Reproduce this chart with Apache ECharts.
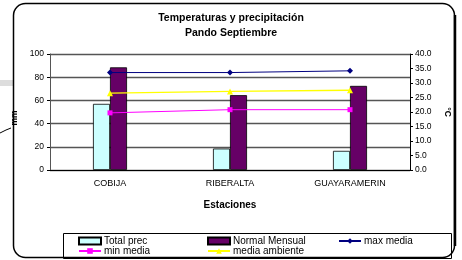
<!DOCTYPE html>
<html>
<head>
<meta charset="utf-8">
<script src="https://cdn.jsdelivr.net/npm/echarts@6/dist/echarts.min.js"></script>
<style>
  html, body { margin: 0; padding: 0; background: #fff; }
  #main { width: 462px; height: 260px; }
</style>
</head>
<body>
<div id="main"></div>
<script>
// data
var estaciones = ['COBIJA', 'RIBERALTA', 'GUAYARAMERIN'];
var totalPrec = [57, 18.5, 16.5];
var normalMensual = [88.5, 64.5, 72.5];
var maxMedia = [33.6, 33.6, 34.2];
var minMedia = [19.7, 20.8, 20.8];
var mediaAmbiente = [26.5, 27.1, 27.5];

var font = 'Liberation Sans, Arial, sans-serif';
var myChart = echarts.init(document.getElementById('main'), null, { renderer: 'canvas' });

function leg(name, left, top, icon) {
  return {
    data: [{ name: name, icon: icon }],
    left: left, top: top,
    padding: 0,
    itemWidth: 22, itemHeight: 7,
    itemGap: 4,
    textStyle: { fontFamily: font, fontSize: 10, color: '#000', padding: [0, 0, 0, -2] }
  };
}

var option = {
  animation: false,
  textStyle: { fontFamily: font },
  title: {
    text: 'Temperaturas y precipitación\nPando Septiembre',
    left: 'center', top: 6,
    textStyle: { fontFamily: font, fontSize: 10.5, fontWeight: 'bold', lineHeight: 15, color: '#000' }
  },
  legend: [
    leg('Total prec', 78, 236, 'rect'),
    leg('Normal Mensual', 207, 236, 'rect'),
    leg('max media', 338, 236),
    leg('min media', 78, 246),
    leg('media ambiente', 207, 246)
  ],
  grid: { left: 50, right: 52, top: 54, bottom: 90 },
  xAxis: {
    type: 'category',
    data: estaciones,
    name: 'Estaciones',
    nameLocation: 'middle',
    nameGap: 30,
    nameTextStyle: { fontFamily: font, fontSize: 10, fontWeight: 'bold', color: '#000' },
    axisLine: { lineStyle: { color: '#000', width: 1 } },
    axisTick: { length: 4, lineStyle: { color: '#000' } },
    axisLabel: { fontFamily: font, fontSize: 9, color: '#000', margin: 9 }
  },
  yAxis: [
    {
      type: 'value', min: 0, max: 100, interval: 20,
      name: 'mm', nameLocation: 'middle', nameGap: 26, nameRotate: 90,
      nameTextStyle: { fontFamily: font, fontSize: 8.5, fontWeight: 'bold', color: '#000', padding: [0, 12, 0, 0] },
      axisLine: { show: true, lineStyle: { color: '#555', width: 1 } },
      axisTick: { show: true, length: 3, lineStyle: { color: '#000' } },
      axisLabel: { fontFamily: font, fontSize: 8.5, color: '#000', margin: 6 },
      splitLine: { lineStyle: { color: '#555', width: 1.3 } }
    },
    {
      type: 'value', min: 0, max: 40, interval: 5,
      name: '°C', nameLocation: 'middle', nameGap: 30, nameRotate: -90,
      nameTextStyle: { fontFamily: font, fontSize: 8.5, fontWeight: 'bold', color: '#000' },
      axisLine: { show: true, lineStyle: { color: '#000', width: 1 } },
      axisTick: { show: true, length: 3, lineStyle: { color: '#000' } },
      axisLabel: {
        fontFamily: font, fontSize: 8.5, color: '#000', margin: 5,
        formatter: function (v) { return v.toFixed(1); }
      },
      splitLine: { show: false }
    }
  ],
  series: [
    {
      name: 'Total prec', type: 'bar', data: totalPrec,
      barWidth: 17, barGap: '0%',
      itemStyle: { color: '#CCFFFF', borderColor: '#000', borderWidth: 0.8 }
    },
    {
      name: 'Normal Mensual', type: 'bar', data: normalMensual,
      barWidth: 17,
      itemStyle: { color: '#660066', borderColor: '#000', borderWidth: 0.8 }
    },
    {
      name: 'max media', type: 'line', yAxisIndex: 1, data: maxMedia,
      symbol: 'diamond', symbolSize: 6,
      lineStyle: { color: '#000080', width: 1 },
      itemStyle: { color: '#000080' }
    },
    {
      name: 'min media', type: 'line', yAxisIndex: 1, data: minMedia,
      symbol: 'rect', symbolSize: 5,
      lineStyle: { color: '#FF00FF', width: 1 },
      itemStyle: { color: '#FF00FF' }
    },
    {
      name: 'media ambiente', type: 'line', yAxisIndex: 1, data: mediaAmbiente,
      symbol: 'triangle', symbolSize: 6,
      lineStyle: { color: '#FFFF00', width: 1.3 },
      itemStyle: { color: '#FFFF00' }
    }
  ],
  graphic: [
    // bits of the page behind the chart
    { type: 'rect', shape: { x: 0, y: 80, width: 13, height: 6 }, style: { fill: '#ddd' }, silent: true },
    { type: 'polyline', shape: { points: [[0, 133], [6, 130], [11, 128]] }, style: { stroke: '#000', lineWidth: 1, fill: null }, silent: true },
    // legend box
    { type: 'rect', shape: { x: 63.5, y: 233.5, width: 388, height: 25 }, style: { fill: 'none', stroke: '#000', lineWidth: 1 }, silent: true, z: -1 },
    // chart frame
    { type: 'rect', shape: { x: 13.5, y: 3.5, width: 441, height: 254, r: 12 }, style: { fill: 'none', stroke: '#000', lineWidth: 1.5 }, silent: true },
    { type: 'line', shape: { x1: 455, y1: 15, x2: 455, y2: 246 }, style: { stroke: '#000', lineWidth: 2.5 }, silent: true }
  ]
};

myChart.setOption(option);
</script>
</body>
</html>
